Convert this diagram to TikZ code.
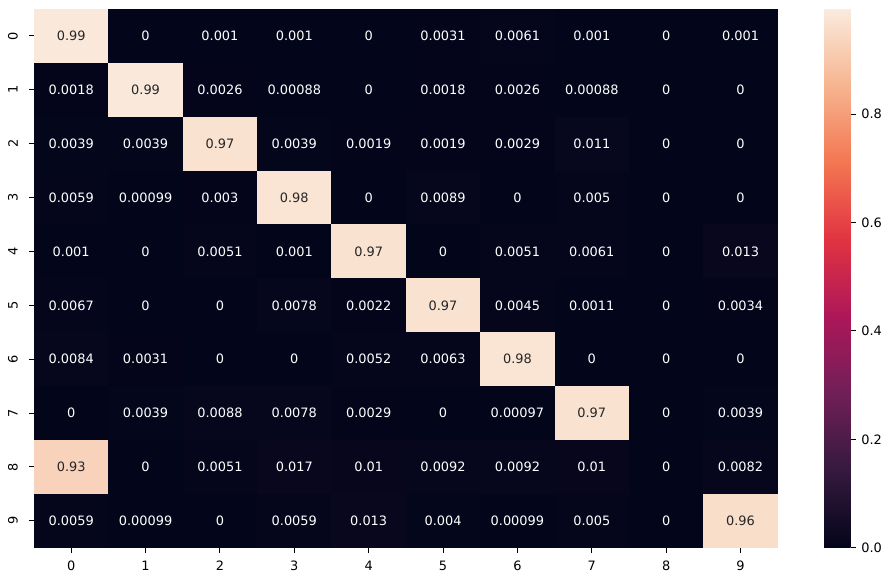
\documentclass[tikz,border=0pt]{standalone}
\usepackage{fontspec}
\setmainfont{DejaVu Sans}
\usepackage{xcolor}
\usepackage{tikz}

\definecolor{rk0}{HTML}{03051A}
\definecolor{rk1}{HTML}{35193E}
\definecolor{rk2}{HTML}{701F57}
\definecolor{rk3}{HTML}{AD1759}
\definecolor{rk4}{HTML}{E13342}
\definecolor{rk5}{HTML}{F37651}
\definecolor{rk6}{HTML}{F6B48F}
\definecolor{rk7}{HTML}{FAEBDD}
\definecolor{annotdark}{HTML}{262626}

\pgfdeclareverticalshading{rocket}{100bp}{color(0bp)=(rk0); color(25bp)=(rk0);
  color(32.143bp)=(rk1); color(39.286bp)=(rk2); color(46.429bp)=(rk3);
  color(53.571bp)=(rk4); color(60.714bp)=(rk5); color(67.857bp)=(rk6);
  color(75bp)=(rk7); color(100bp)=(rk7)}

\newcommand\rocketmix[1]{%
  \pgfmathsetmacro\rkpos{min(#1/0.994,1)*7}%
  \pgfmathtruncatemacro\rkseg{min(int(\rkpos),6)}%
  \pgfmathtruncatemacro\rknext{\rkseg+1}%
  \pgfmathsetmacro\rkpct{100*(\rkpos-\rkseg)}%
  \colorlet{cellfill}{rk\rknext!\rkpct!rk\rkseg}}

\tikzset{
  cellval/.style={font=\fontsize{9.3}{11}\selectfont, inner sep=0pt},
  ticklab/.style={font=\fontsize{9.3}{11}\selectfont, inner sep=0pt, text=black},
  tickline/.style={line width=0.75pt, black}
}

\begin{document}
\begin{tikzpicture}[x=0.72pt,y=-0.72pt]
\useasboundingbox (0,0) rectangle (892,582);
\foreach \vals [count=\r from 0] in {
  {0.99,0,0.001,0.001,0,0.0031,0.0061,0.001,0,0.001},
  {0.0018,0.99,0.0026,0.00088,0,0.0018,0.0026,0.00088,0,0},
  {0.0039,0.0039,0.97,0.0039,0.0019,0.0019,0.0029,0.011,0,0},
  {0.0059,0.00099,0.003,0.98,0,0.0089,0,0.005,0,0},
  {0.001,0,0.0051,0.001,0.97,0,0.0051,0.0061,0,0.013},
  {0.0067,0,0,0.0078,0.0022,0.97,0.0045,0.0011,0,0.0034},
  {0.0084,0.0031,0,0,0.0052,0.0063,0.98,0,0,0},
  {0,0.0039,0.0088,0.0078,0.0029,0,0.00097,0.97,0,0.0039},
  {0.93,0,0.0051,0.017,0.01,0.0092,0.0092,0.01,0,0.0082},
  {0.0059,0.00099,0,0.0059,0.013,0.004,0.00099,0.005,0,0.96}}{
  \foreach \v [count=\c from 0] in \vals {
    \rocketmix{\v}
    \pgfmathtruncatemacro\light{\v>0.5}
    \ifnum\light=1 \def\tc{annotdark}\else\def\tc{white}\fi
    \fill[cellfill] (34+\c*74.37,9+\r*53.87) rectangle ++(74.5,54);
    \node[cellval,text=\tc] (c-\r-\c) at (71.19+\c*74.37,35.94+\r*53.87) {\v};
  }
}
\foreach \r in {0,...,9}{
  \draw[tickline] (29.1,35.94+\r*53.87) -- (34,35.94+\r*53.87);
  \node[ticklab,rotate=90] (yl\r) at (13,35.94+\r*53.87) {\r};
  \draw[tickline] (71.19+\r*74.37,547.7) -- (71.19+\r*74.37,552.6);
  \node[ticklab] (xl\r) at (71.19+\r*74.37,565.7) {\r};
}
\shade[shading=rocket] (824,9) rectangle (850.7,547.7);
\foreach \t [count=\k from 0] in {0.0,0.2,0.4,0.6,0.8}{
  \pgfmathsetmacro\ty{547.7-\t/0.994*538.7}
  \draw[tickline] (850.7,\ty) -- (855.6,\ty);
  \node[ticklab,anchor=west] (cb\k) at (861,\ty) {\t};
}
\end{tikzpicture}
\end{document}
